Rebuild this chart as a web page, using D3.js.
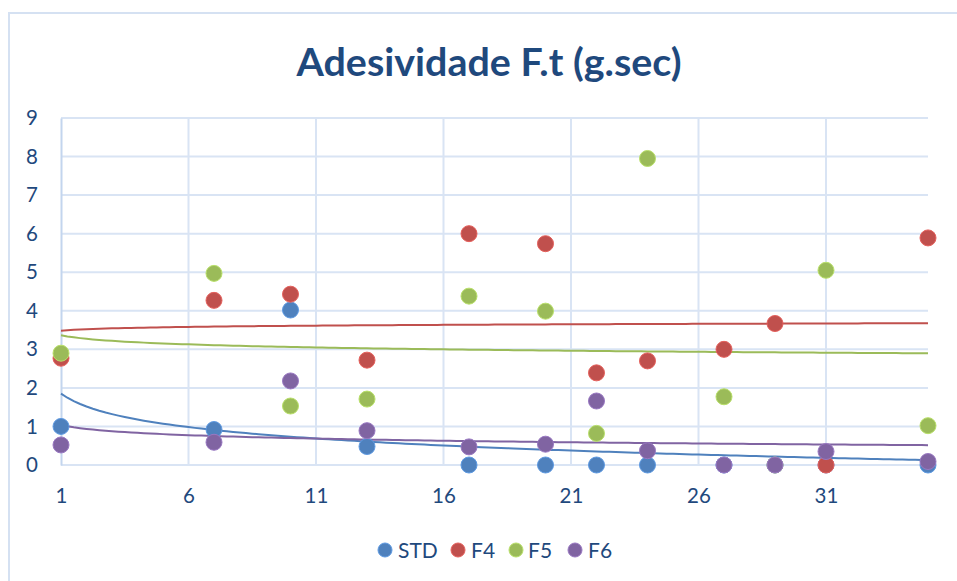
<!DOCTYPE html>
<html>
<head>
<meta charset="utf-8">
<script src="https://cdn.jsdelivr.net/npm/d3@7"></script>
<style>
  html, body { margin: 0; padding: 0; background: #fff; }
  svg { display: block; }
  text { font-family: Lato, "Open Sans", "DejaVu Sans", sans-serif; }
</style>
</head>
<body>
<svg id="chart" width="957" height="581"></svg>
<script>
// ---- data ----
const chartTitle = "Adesividade F.t (g.sec)";
const xValues = [1, 7, 10, 13, 17, 20, 22, 24, 27, 29, 31, 35];
const seriesNames = ["STD", "F4", "F5", "F6"];
const stdValues = [1.0, 0.92, 4.02, 0.48, 0, 0, 0, 0, 0, 0, 0, 0];
const f4Values  = [2.77, 4.27, 4.43, 2.72, 6.0, 5.74, 2.39, 2.70, 3.0, 3.67, 0, 5.89];
const f5Values  = [2.9, 4.97, 1.53, 1.71, 4.38, 3.99, 0.82, 7.95, 1.77, 0, 5.05, 1.02];
const f6Values  = [0.52, 0.59, 2.18, 0.89, 0.47, 0.54, 1.66, 0.37, 0, 0, 0.35, 0.09];
const seriesColors = ["#4F81BD", "#C0504D", "#9BBB59", "#8064A2"];
const xTickValues = [1, 6, 11, 16, 21, 26, 31];
const yTickValues = [0, 1, 2, 3, 4, 5, 6, 7, 8, 9];

const series = [stdValues, f4Values, f5Values, f6Values].map((vals, i) => ({
  name: seriesNames[i], color: seriesColors[i],
  points: xValues.map((x, j) => ({ x, y: vals[j] }))
}));

// ---- layout ----
const svg = d3.select("#chart");
const W = 957, H = 581;
const plot = { left: 61, right: 928, top: 118, bottom: 465 };
const x = d3.scaleLinear().domain([1, 35]).range([plot.left, plot.right]);
const y = d3.scaleLinear().domain([0, 9]).range([plot.bottom, plot.top]);

const gridColor = "#D9E4F4";
const textColor = "#1F497D";

// chart border
svg.append("rect")
  .attr("x", 9).attr("y", 13).attr("width", W + 10).attr("height", H + 10)
  .attr("fill", "none").attr("stroke", "#D5E1F2").attr("stroke-width", 2);

// title
svg.append("text")
  .attr("x", 489).attr("y", 76)
  .attr("text-anchor", "middle")
  .attr("font-size", 39).attr("font-weight", "bold")
  .attr("fill", textColor)
  .attr("textLength", 385).attr("lengthAdjust", "spacingAndGlyphs")
  .text(chartTitle);

// gridlines
const grid = svg.append("g");
grid.selectAll("line.h").data(yTickValues).join("line")
  .attr("class", "h")
  .attr("x1", plot.left).attr("x2", plot.right)
  .attr("y1", d => y(d)).attr("y2", d => y(d))
  .attr("stroke", gridColor).attr("stroke-width", 2);
grid.selectAll("line.v").data(xTickValues.filter(d => d !== 1)).join("line")
  .attr("class", "v")
  .attr("x1", d => x(d)).attr("x2", d => x(d))
  .attr("y1", plot.top).attr("y2", plot.bottom)
  .attr("stroke", gridColor).attr("stroke-width", 2);

// axes via d3
const yAxis = d3.axisLeft(y).tickValues(yTickValues).tickSize(0).tickPadding(23);
const gy = svg.append("g").attr("transform", `translate(${plot.left},0)`).call(yAxis);
gy.select(".domain").attr("stroke", "#C3D5EE").attr("stroke-width", 2);
gy.selectAll("text").attr("font-size", 20.5).attr("fill", textColor)
  .attr("font-family", "Lato, sans-serif");

const xAxis = d3.axisBottom(x).tickValues(xTickValues).tickSize(0).tickPadding(23);
const gx = svg.append("g").attr("transform", `translate(0,${plot.bottom})`).call(xAxis);
gx.select(".domain").remove();
gx.selectAll("text").attr("font-size", 20.5).attr("fill", textColor)
  .attr("font-family", "Lato, sans-serif");

// logarithmic trendlines (least squares on ln x, as in the source chart)
function logFit(points) {
  const lx = points.map(p => Math.log(p.x));
  const mx = d3.mean(lx), my = d3.mean(points, p => p.y);
  let sxy = 0, sxx = 0;
  points.forEach((p, i) => { sxy += (lx[i] - mx) * (p.y - my); sxx += (lx[i] - mx) ** 2; });
  const b = sxy / sxx, a = my - b * mx;
  return t => a + b * Math.log(t);
}
const sampleX = d3.range(1, 35.001, 0.25);
const line = d3.line().x(d => x(d[0])).y(d => y(d[1]));
series.forEach(s => {
  const f = logFit(s.points);
  svg.append("path")
    .datum(sampleX.map(t => [t, f(t)]))
    .attr("d", line)
    .attr("fill", "none").attr("stroke", s.color).attr("stroke-width", 2);
});

// markers
series.forEach(s => {
  svg.append("g").selectAll("circle").data(s.points).join("circle")
    .attr("cx", d => x(d.x)).attr("cy", d => y(d.y)).attr("r", 8)
    .attr("fill", s.color)
    .attr("stroke", d3.color(s.color).brighter(0.5)).attr("stroke-width", 1);
});

// legend
const legendItems = [
  { name: "STD", cx: 385, tx: 398 },
  { name: "F4", cx: 458, tx: 471 },
  { name: "F5", cx: 516, tx: 528 },
  { name: "F6", cx: 575, tx: 588 }
];
const lg = svg.append("g");
legendItems.forEach((it, i) => {
  lg.append("circle").attr("cx", it.cx).attr("cy", 550).attr("r", 7)
    .attr("fill", seriesColors[i])
    .attr("stroke", d3.color(seriesColors[i]).brighter(0.5)).attr("stroke-width", 1);
  lg.append("text").attr("x", it.tx).attr("y", 557.5)
    .attr("font-size", 21).attr("fill", textColor).text(seriesNames[i]);
});
</script>
</body>
</html>
